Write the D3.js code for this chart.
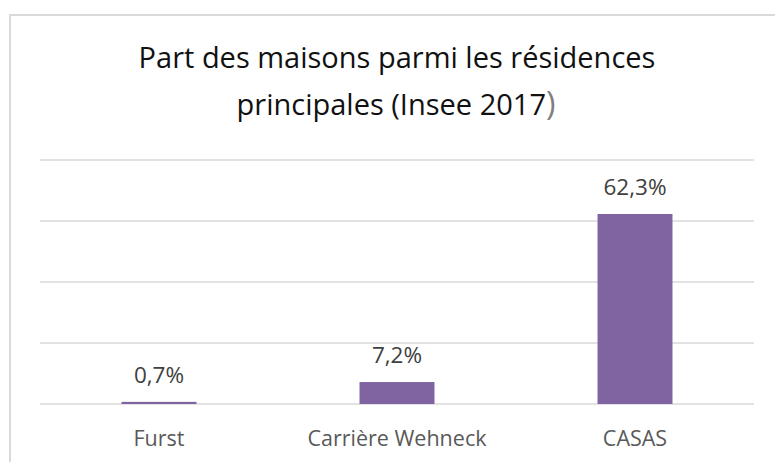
<!DOCTYPE html>
<html>
<head>
<meta charset="utf-8">
<script src="https://cdn.jsdelivr.net/npm/d3@7"></script>
<style>
  body { margin: 0; background: #fff; }
  svg { display: block; font-family: "Open Sans", "Noto Sans", sans-serif; }
</style>
</head>
<body>
<div id="chart"></div>
<script>
// Data
let categories = ["Furst", "Carrière Wehneck", "CASAS"];
let values = [0.7, 7.2, 62.3];
let labels = ["0,7%", "7,2%", "62,3%"];
let gridTicks = [0, 20, 40, 60, 80];

let w = 775;
let h = 462;

let svg = d3.select("#chart")
    .append("svg")
    .attr("width", w)
    .attr("height", h);

// chart frame (only top and left edges visible)
svg.append("path")
    .attr("d", `M10,${h} V15 H${w}`)
    .attr("fill", "none")
    .attr("stroke", "#d9d9d9")
    .attr("stroke-width", 2);

// Title
let title = svg.append("text")
    .attr("text-anchor", "middle")
    .attr("fill", "#111")
    .style("font-size", "29px");
title.append("tspan")
    .attr("x", 397).attr("y", 68)
    .text("Part des maisons parmi les résidences");
let t2 = title.append("tspan")
    .attr("x", 396).attr("y", 115);
t2.append("tspan").text("principales (Insee 2017");
t2.append("tspan").attr("fill", "#7f7f7f").style("font-size", "32px").text(")");

// Scales
let x = d3.scaleBand()
    .domain(categories)
    .range([40, 754])
    .paddingInner(0.685)
    .paddingOuter(0.3425);

let y = d3.scaleLinear()
    .domain([0, 80])
    .range([404, 160]);

// Gridlines
svg.append("g")
    .selectAll("line")
    .data(gridTicks)
    .join("line")
    .attr("x1", 40)
    .attr("x2", 754)
    .attr("y1", d => y(d))
    .attr("y2", d => y(d))
    .attr("stroke", "#d9d9d9")
    .attr("stroke-width", 1.5);

// Bars
svg.append("g")
    .selectAll("rect")
    .data(values)
    .join("rect")
    .attr("x", (d, i) => x(categories[i]))
    .attr("y", d => y(d))
    .attr("width", x.bandwidth())
    .attr("height", d => y(0) - y(d))
    .attr("fill", "#8064a2");

// Data labels
svg.append("g")
    .selectAll("text")
    .data(values)
    .join("text")
    .attr("x", (d, i) => x(categories[i]) + x.bandwidth() / 2)
    .attr("y", d => y(d) - 19)
    .attr("text-anchor", "middle")
    .attr("fill", "#404040")
    .style("font-size", "22.5px")
    .text((d, i) => labels[i]);

// Category axis labels
svg.append("g")
    .selectAll("text")
    .data(categories)
    .join("text")
    .attr("x", d => x(d) + x.bandwidth() / 2)
    .attr("y", 446)
    .attr("text-anchor", "middle")
    .attr("fill", "#595959")
    .style("font-size", "21.5px")
    .text(d => d);
</script>
</body>
</html>
